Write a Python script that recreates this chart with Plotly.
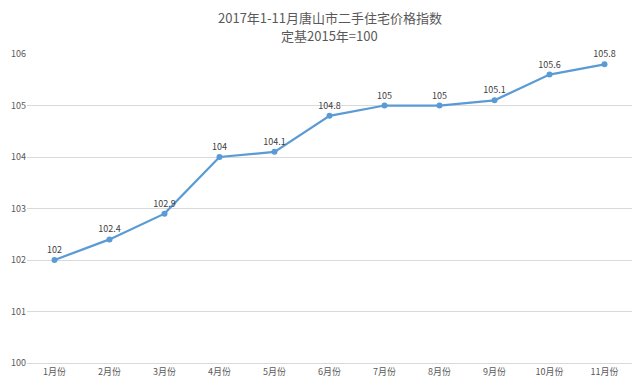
import plotly.graph_objects as go

months = ["1月份", "2月份", "3月份", "4月份", "5月份", "6月份", "7月份", "8月份", "9月份", "10月份", "11月份"]
values = [102, 102.4, 102.9, 104, 104.1, 104.8, 105, 105, 105.1, 105.6, 105.8]
y_ticks = [100, 101, 102, 103, 104, 105, 106]
title_lines = ["2017年1-11月唐山市二手住宅价格指数", "定基2015年=100"]

FONT = "Noto Sans CJK SC, Liberation Sans, sans-serif"
GREY = "#595959"

W, H = 632, 378
ML, MR, MT, MB = 19, 8, 46, 23
plot_h = H - MT - MB


def paper_y(px):
    return (H - MB - px) / plot_h


fig = go.Figure()
fig.add_trace(go.Scatter(
    x=list(range(len(months))), y=values,
    mode="lines+markers+text",
    text=[f"{v:g}" for v in values],
    textposition="top center",
    textfont=dict(size=9, color="#404040", family=FONT),
    line=dict(color="#5b9bd5", width=2.25),
    marker=dict(color="#5b9bd5", size=6),
    cliponaxis=False,
    hoverinfo="skip",
))

annotations = []
for line, py in zip(title_lines, [9.5, 27.5]):
    annotations.append(dict(
        text=line, xref="paper", yref="paper", x=0.5, y=paper_y(py),
        xanchor="center", yanchor="middle", showarrow=False,
        font=dict(size=13, color=GREY, family=FONT),
    ))

fig.update_layout(
    width=W, height=H,
    margin=dict(l=ML, r=MR, t=MT, b=MB, autoexpand=False),
    paper_bgcolor="white", plot_bgcolor="white",
    showlegend=False,
    annotations=annotations,
    xaxis=dict(
        range=[-0.5, len(months) - 0.5],
        tickmode="array", tickvals=list(range(len(months))), ticktext=months,
        showgrid=False, zeroline=False, automargin=False,
        showline=True, linecolor="#d9d9d9", linewidth=1,
        ticks="", tickfont=dict(size=9, color=GREY, family=FONT),
        fixedrange=True,
    ),
    yaxis=dict(
        range=[100, 106],
        tickmode="array", tickvals=y_ticks, ticktext=[str(t) for t in y_ticks],
        showgrid=True, gridcolor="#d9d9d9", gridwidth=1,
        zeroline=False, showline=False, ticks="", automargin=False,
        tickfont=dict(size=9, color=GREY, family=FONT),
        fixedrange=True,
    ),
    font=dict(family=FONT),
)

fig.write_html("out.html")
